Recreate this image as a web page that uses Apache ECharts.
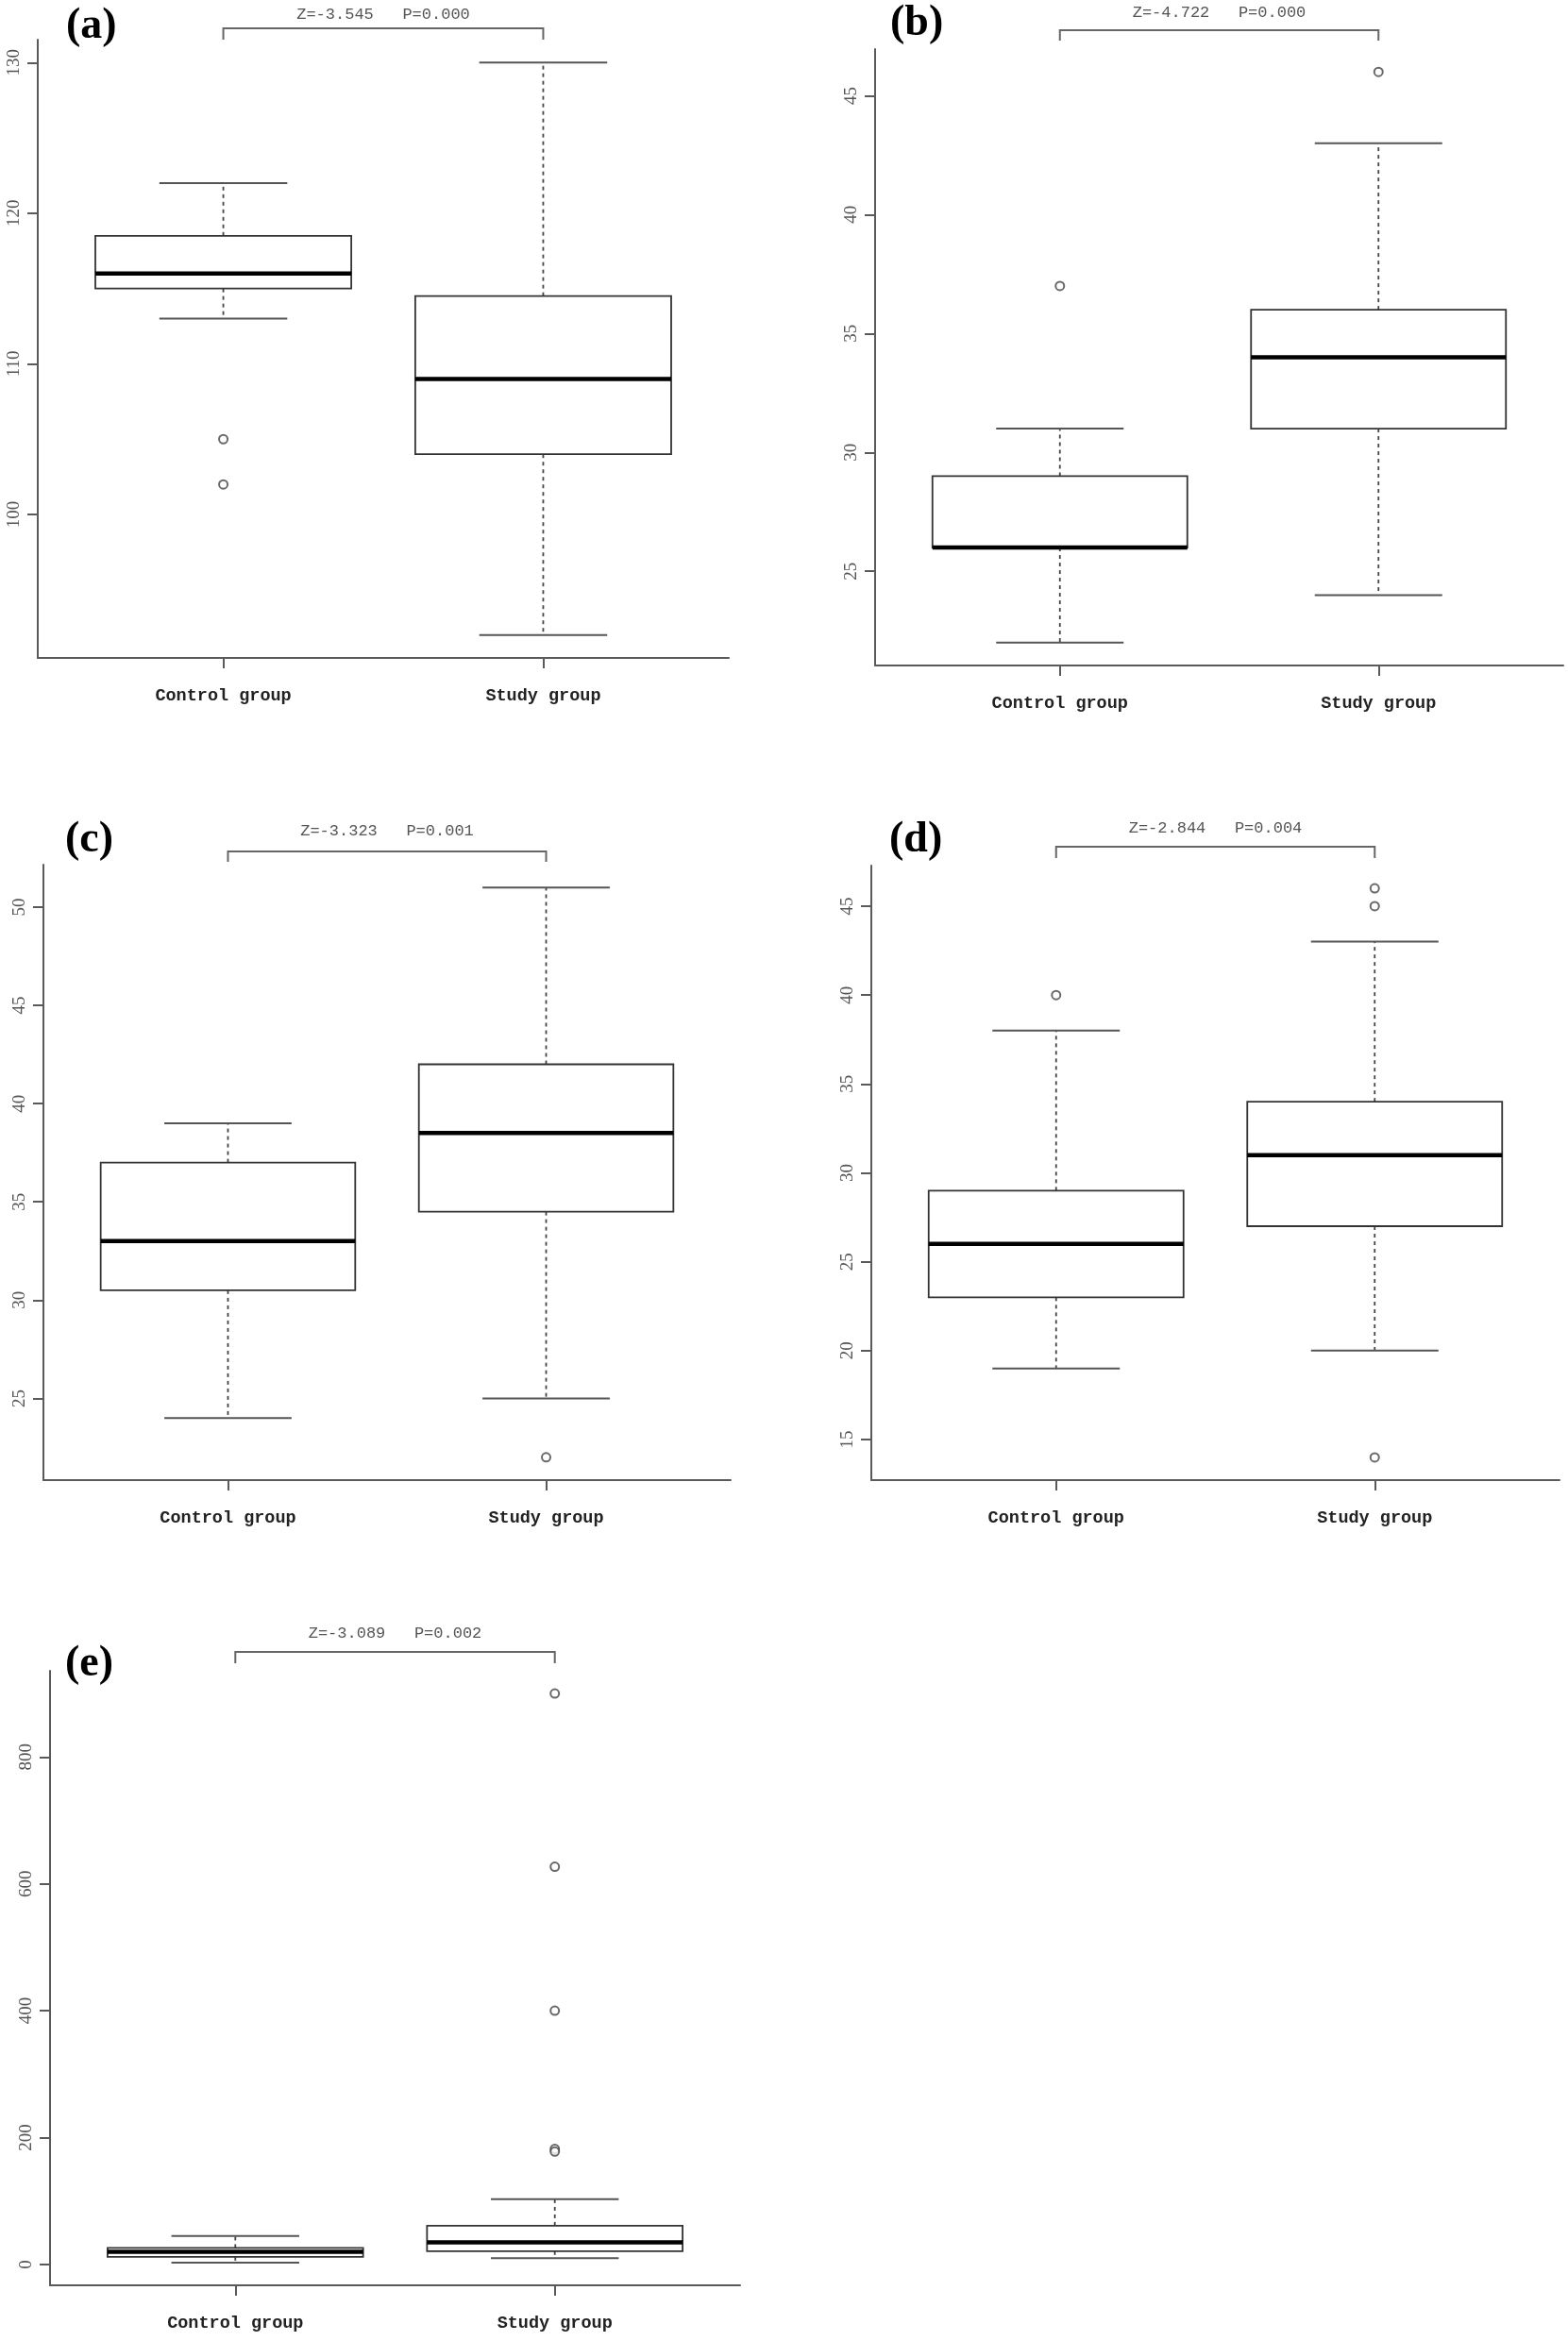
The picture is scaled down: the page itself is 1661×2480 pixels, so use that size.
<!DOCTYPE html>
<html>
<head>
<meta charset="utf-8">
<script src="https://cdn.jsdelivr.net/npm/echarts@6/dist/echarts.min.js"></script>
<style>
html,body{margin:0;padding:0;background:#fff;}
#chart{width:1661px;height:2480px;}
</style>
</head>
<body>
<div id="chart"></div>
<script>
// ---------- DATA ----------
const groups = ['Control group', 'Study group'];

// each box: [lower whisker, Q1, median, Q3, upper whisker]
const aControl = [113, 115, 116, 118.5, 122];
const aStudy   = [92, 104, 109, 114.5, 130];
const aOutliers = [[1, 105], [1, 102]];
const aTicks = [100, 110, 120, 130];
const aStat = 'Z=-3.545   P=0.000';

const bControl = [22, 26, 26, 29, 31];
const bStudy   = [24, 31, 34, 36, 43];
const bOutliers = [[1, 37], [2, 46]];
const bTicks = [25, 30, 35, 40, 45];
const bStat = 'Z=-4.722   P=0.000';

const cControl = [24, 30.5, 33, 37, 39];
const cStudy   = [25, 34.5, 38.5, 42, 51];
const cOutliers = [[2, 22]];
const cTicks = [25, 30, 35, 40, 45, 50];
const cStat = 'Z=-3.323   P=0.001';

const dControl = [19, 23, 26, 29, 38];
const dStudy   = [20, 27, 31, 34, 43];
const dOutliers = [[1, 40], [2, 46], [2, 45], [2, 14]];
const dTicks = [15, 20, 25, 30, 35, 40, 45];
const dStat = 'Z=-2.844   P=0.004';

const eControl = [3, 12, 20, 26, 45];
const eStudy   = [10, 21, 35, 61, 103];
const eOutliers = [[2, 900], [2, 627], [2, 400], [2, 182], [2, 178]];
const eTicks = [0, 200, 400, 600, 800];
const eStat = 'Z=-3.089   P=0.002';

const panelNames = ['(a)', '(b)', '(c)', '(d)', '(e)'];

// ---------- LAYOUT ----------
const panels = [
  {name: panelNames[0], control: aControl, study: aStudy, outliers: aOutliers, ticks: aTicks, stat: aStat},
  {name: panelNames[1], control: bControl, study: bStudy, outliers: bOutliers, ticks: bTicks, stat: bStat},
  {name: panelNames[2], control: cControl, study: cStudy, outliers: cOutliers, ticks: cTicks, stat: cStat},
  {name: panelNames[3], control: dControl, study: dStudy, outliers: dOutliers, ticks: dTicks, stat: dStat},
  {name: panelNames[4], control: eControl, study: eStudy, outliers: eOutliers, ticks: eTicks, stat: eStat}
];
const layout = [
  {left: 40,  top: 42,   width: 732, height: 655, by: 30,   drop: 42,   ty: 15,   lx: 70,  ly: 28},
  {left: 927, top: 52,   width: 729, height: 653, by: 32,   drop: 43,   ty: 13,   lx: 943, ly: 25},
  {left: 46,  top: 916,  width: 728, height: 652, by: 902,  drop: 913,  ty: 880,  lx: 69,  ly: 890},
  {left: 923, top: 917,  width: 729, height: 651, by: 897,  drop: 909,  ty: 877,  lx: 942, ly: 890},
  {left: 53,  top: 1770, width: 731, height: 651, by: 1750, drop: 1762, ty: 1730, lx: 69,  ly: 1763}
];

const axisColor = '#5a5a5a';
const boxColor = '#333';

function renderBox(params, api) {
  const x = api.value(0);
  const lo = api.value(1), q1 = api.value(2), med = api.value(3), q3 = api.value(4), hi = api.value(5);
  const P = (xx, yy) => api.coord([xx, yy]);
  const half = 0.4, cap = 0.2;
  const tl = P(x - half, q3), br = P(x + half, q1);
  const m1 = P(x - half, med), m2 = P(x + half, med);
  const wTop1 = P(x, q3), wTop2 = P(x, hi);
  const wBot1 = P(x, q1), wBot2 = P(x, lo);
  const cHi1 = P(x - cap, hi), cHi2 = P(x + cap, hi);
  const cLo1 = P(x - cap, lo), cLo2 = P(x + cap, lo);
  const dash = {stroke: '#444', lineWidth: 1.8, lineDash: [4, 4]};
  const capStyle = {stroke: '#555', lineWidth: 2};
  return {
    type: 'group',
    children: [
      {type: 'line', shape: {x1: wTop1[0], y1: wTop1[1], x2: wTop2[0], y2: wTop2[1]}, style: dash},
      {type: 'line', shape: {x1: wBot1[0], y1: wBot1[1], x2: wBot2[0], y2: wBot2[1]}, style: dash},
      {type: 'line', shape: {x1: cHi1[0], y1: cHi1[1], x2: cHi2[0], y2: cHi2[1]}, style: capStyle},
      {type: 'line', shape: {x1: cLo1[0], y1: cLo1[1], x2: cLo2[0], y2: cLo2[1]}, style: capStyle},
      {type: 'rect', shape: {x: tl[0], y: tl[1], width: br[0] - tl[0], height: br[1] - tl[1]},
        style: {fill: '#fff', stroke: boxColor, lineWidth: 1.8}},
      {type: 'line', shape: {x1: m1[0], y1: m1[1], x2: m2[0], y2: m2[1]}, style: {stroke: '#000', lineWidth: 4.5}}
    ]
  };
}

const grids = [], xAxes = [], yAxes = [], series = [];
panels.forEach((p, i) => {
  const L = layout[i];
  grids.push({left: L.left, top: L.top, width: L.width, height: L.height, containLabel: false});
  const all = p.control.concat(p.study).concat(p.outliers.map(o => o[1]));
  const lo = Math.min.apply(null, all), hi = Math.max.apply(null, all);
  const pad = (hi - lo) * 0.04;
  xAxes.push({
    type: 'value', gridIndex: i, min: 0.42, max: 2.58,
    splitLine: {show: false},
    axisLine: {show: true, onZero: false, lineStyle: {color: axisColor, width: 2}},
    axisTick: {show: true, customValues: [1, 2], length: 11, lineStyle: {color: axisColor, width: 2}},
    axisLabel: {
      show: true, customValues: [1, 2], margin: 31,
      formatter: v => groups[Math.round(v) - 1] || '',
      fontFamily: '"Liberation Mono", monospace', fontWeight: 'bold', fontSize: 18.5, color: '#222'
    }
  });
  yAxes.push({
    type: 'value', gridIndex: i, min: lo - pad, max: hi + pad,
    splitLine: {show: false},
    axisLine: {show: true, onZero: false, lineStyle: {color: axisColor, width: 2}},
    axisTick: {show: true, customValues: p.ticks, length: 11, lineStyle: {color: axisColor, width: 2}},
    axisLabel: {
      show: true, customValues: p.ticks, rotate: 90, margin: 15,
      fontFamily: '"Liberation Serif", serif', fontSize: 19, color: '#555'
    }
  });
  series.push({
    type: 'custom', xAxisIndex: i, yAxisIndex: i,
    renderItem: renderBox,
    encode: {x: 0, y: [1, 2, 3, 4, 5]},
    data: [[1].concat(p.control), [2].concat(p.study)],
    z: 2
  });
  series.push({
    type: 'scatter', xAxisIndex: i, yAxisIndex: i,
    symbol: 'emptyCircle', symbolSize: 9,
    itemStyle: {color: '#444', borderWidth: 1.5},
    data: p.outliers,
    z: 3
  });
});

const chart = echarts.init(document.getElementById('chart'), null, {renderer: 'canvas'});
chart.setOption({
  backgroundColor: '#fff',
  animation: false,
  grid: grids, xAxis: xAxes, yAxis: yAxes, series: series
});

const graphics = [];
panels.forEach((p, i) => {
  const L = layout[i];
  const xa = chart.convertToPixel({gridIndex: i}, [1, p.ticks[0]])[0];
  const xb = chart.convertToPixel({gridIndex: i}, [2, p.ticks[0]])[0];
  graphics.push({
    type: 'polyline',
    shape: {points: [[xa, L.drop], [xa, L.by], [xb, L.by], [xb, L.drop]]},
    style: {stroke: '#666', lineWidth: 2, fill: null}
  });
  graphics.push({
    type: 'text', x: (xa + xb) / 2, y: L.ty,
    style: {text: p.stat, fontFamily: '"Liberation Mono", monospace', fontSize: 17, fill: '#555',
      align: 'center', verticalAlign: 'middle'}
  });
  graphics.push({
    type: 'text', x: L.lx, y: L.ly,
    style: {text: p.name, fontFamily: '"Liberation Serif", serif', fontWeight: 'bold', fontSize: 46, fill: '#000',
      align: 'left', verticalAlign: 'middle'}
  });
});
chart.setOption({graphic: graphics});
</script>
</body>
</html>
